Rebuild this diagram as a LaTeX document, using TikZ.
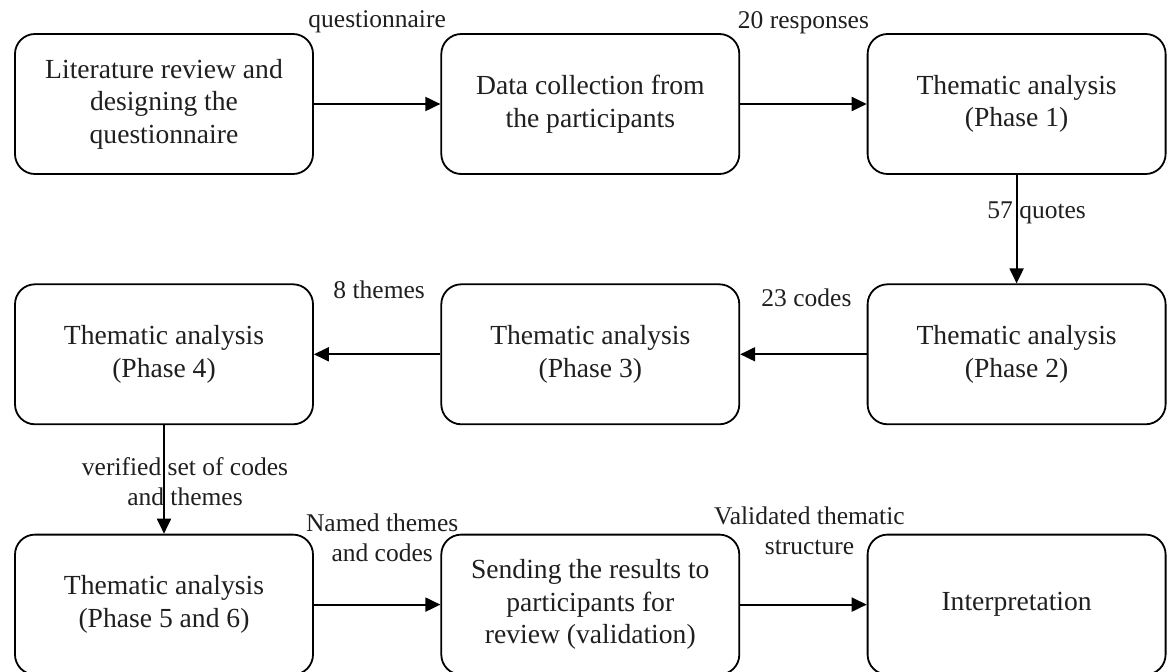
\documentclass[tikz,border=0pt]{standalone}
\usepackage{fontspec}
\setmainfont{Liberation Serif}
\usetikzlibrary{positioning,arrows.meta,calc}

\begin{document}
\begin{tikzpicture}[
  x=1pt, y=1pt,
  node distance=108.5pt and 126.5pt,
  stage/.style={rectangle, rounded corners=20pt, draw=black, line width=1.8pt, fill=white,
                text=black!88, align=center, inner sep=4pt, minimum width=298pt, minimum height=140pt,
                font=\fontsize{27.6}{32.5}\selectfont},
  flow/.style={-{Triangle[length=15pt,width=14pt]}, line width=1.9pt, draw=black},
  elabel/.style={font=\fontsize{25.5}{30}\selectfont, text=black!88, align=center, inner sep=0pt},
]
\useasboundingbox (0,0) rectangle (1171,-672);

% ---------- First row ----------
\node[stage] (lit) at (164,-104) {Literature review and\\ designing the\\ questionnaire};
\node[stage, right=of lit] (collect) {Data collection from\\ the participants};
\node[stage, right=of collect] (ph1) {Thematic analysis\\ (Phase 1)};

% ---------- Second row ----------
\node[stage, below=of ph1] (ph2) {Thematic analysis\\ (Phase 2)};
\node[stage, left=of ph2] (ph3) {Thematic analysis\\ (Phase 3)};
\node[stage, left=of ph3] (ph4) {Thematic analysis\\ (Phase 4)};

% ---------- Third row ----------
\node[stage, below=of ph4] (ph5) {Thematic analysis\\ (Phase 5 and 6)};
\node[stage, right=of ph5] (send) {Sending the results to\\ participants for\\ review (validation)};
\node[stage, right=of send] (interp) {Interpretation};

% ---------- Arrows ----------
\draw[flow] (lit) -- (collect);
\draw[flow] (collect) -- (ph1);
\draw[flow] (ph1) -- (ph2);
\draw[flow] (ph2) -- (ph3);
\draw[flow] (ph3) -- (ph4);
\draw[flow] (ph4) -- (ph5);
\draw[flow] (ph5) -- (send);
\draw[flow] (send) -- (interp);

% ---------- Labels ----------
\node[elabel] (lquest) at ($(lit.north east)!0.5!(collect.north west)+(0,11)$) {questionnaire};
\node[elabel] (lresp) at ($(collect.north east)!0.5!(ph1.north west)+(0,10)$) {20 responses};
\node[elabel, xshift=20pt] (lquote) at ($(ph1.south)!0.35!(ph2.north)$) {57 quotes};
\node[elabel] (lcodes) at ($(ph3.north east)!0.5!(ph2.north west)+(3,-14)$) {23 codes};
\node[elabel] (lthemes) at ($(ph4.north east)!0.5!(ph3.north west)+(2,-6)$) {8 themes};
\node[elabel, xshift=21pt] (lverif) at ($(ph4.south)!0.5!(ph5.north)+(0,-2)$) {verified set of codes\\ and themes};
\node[elabel] (lnamed) at ($(ph5.north east)!0.5!(send.north west)+(5,-4)$) {Named themes\\ and codes};
\node[elabel] (lvalid) at ($(send.north east)!0.5!(interp.north west)+(6,3)$) {Validated thematic\\ structure};

\end{tikzpicture}
\end{document}
